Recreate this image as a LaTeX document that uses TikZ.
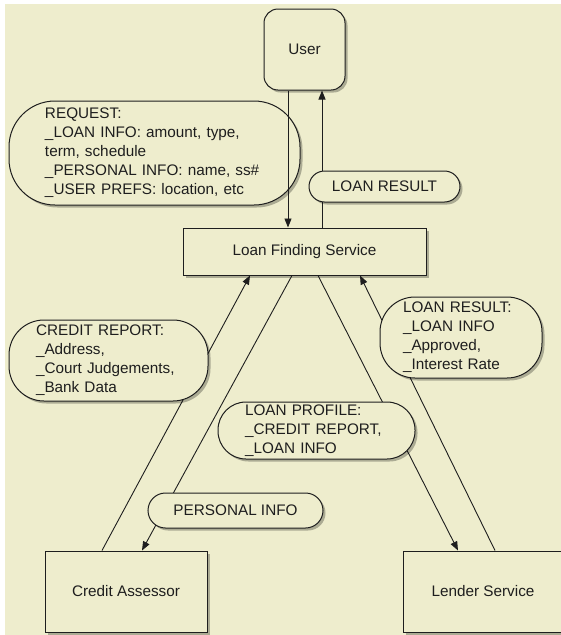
\documentclass[tikz,border=0pt]{standalone}
\usepackage{fontspec}
\setmainfont{Liberation Sans}
\usetikzlibrary{arrows.meta,shadows,calc}
\definecolor{bg}{RGB}{238,237,205}
\definecolor{ink}{RGB}{30,30,30}
\begin{document}
\begin{tikzpicture}[x=1pt,y=-1pt,
  every node/.style={font=\fontsize{15.3}{19}\selectfont, text=ink},
  shade/.style={drop shadow={shadow xshift=2.5pt, shadow yshift=-2.5pt, fill=black, opacity=0.28}},
  box/.style={draw=ink, line width=1pt, fill=bg, shade, inner sep=0pt},
  bubble/.style={draw=ink, line width=1pt, fill=bg, shade, align=left, inner ysep=0pt},
  arr/.style={draw=ink, line width=0.9pt, -{Triangle[length=9pt,width=7pt]}},
]
\fill[white] (0,0) rectangle (561,635);
\fill[bg] (5,4) rectangle (561,635);
\useasboundingbox (0,0) rectangle (561,635);

% boxes
\node[box, rounded corners=14pt, minimum width=81pt, minimum height=81pt] (user) at (304.5,49.5) {User};
\node[box, minimum width=243pt, minimum height=47pt] (lfs) at (304.5,251.5) {Loan Finding Service};
\node[box, minimum width=162pt, minimum height=81pt] (ca) at (126,591.5) {Credit Assessor};
\node[box, minimum width=160pt, minimum height=81pt] (ls) at (483,591.5) {Lender Service};

% connectors (behind the labels)
\draw[arr] ([xshift=17.5pt]lfs.north) -- ([xshift=17.5pt]user.south);
\draw[arr] ([xshift=-24pt]ca.north) -- ([xshift=-54.5pt]lfs.south);
\draw[arr] ([xshift=-12.5pt]lfs.south) -- ([xshift=16pt]ca.north);
\draw[arr] ([xshift=13.5pt]lfs.south) -- ([xshift=-25pt]ls.north);
\draw[arr] ([xshift=12pt]ls.north) -- ([xshift=55.5pt]lfs.south);

% labels
\node[bubble, rounded corners=46pt, minimum width=291pt, minimum height=104pt, text width=219pt, inner xsep=36pt] (req) at (154.5,153)
  {REQUEST:\\\_LOAN INFO: amount, type,\\term, schedule\\\_PERSONAL INFO: name, ss\#\\\_USER PREFS: location, etc};
\node[bubble, rounded corners=15.5pt, minimum width=151pt, minimum height=31pt, align=center] (lr) at (384.5,186.5) {LOAN RESULT};
\node[bubble, rounded corners=35pt, minimum width=199pt, minimum height=81pt, text width=145pt, inner xsep=27pt] (crb) at (108.5,360.5)
  {CREDIT REPORT:\\\_Address,\\\_Court Judgements,\\\_Bank Data};
\node[bubble, rounded corners=35pt, minimum width=162pt, minimum height=81pt, text width=116pt, inner xsep=23pt] (lrb) at (461,337.5)
  {LOAN RESULT:\\\_LOAN INFO\\\_Approved,\\\_Interest Rate};
\node[bubble, rounded corners=28pt, minimum width=197pt, minimum height=57pt, text width=143pt, inner xsep=27pt] (lpb) at (316.5,430.5)
  {LOAN PROFILE:\\\_CREDIT REPORT,\\\_LOAN INFO};
\node[bubble, rounded corners=17.5pt, minimum width=175pt, minimum height=35pt, align=center] (pib) at (235.5,510.5) {PERSONAL INFO};

% request arrow drawn over its label, as in the reference
\draw[arr] ([xshift=-16.5pt]user.south) -- ([xshift=-16.5pt]lfs.north);
\end{tikzpicture}
\end{document}
